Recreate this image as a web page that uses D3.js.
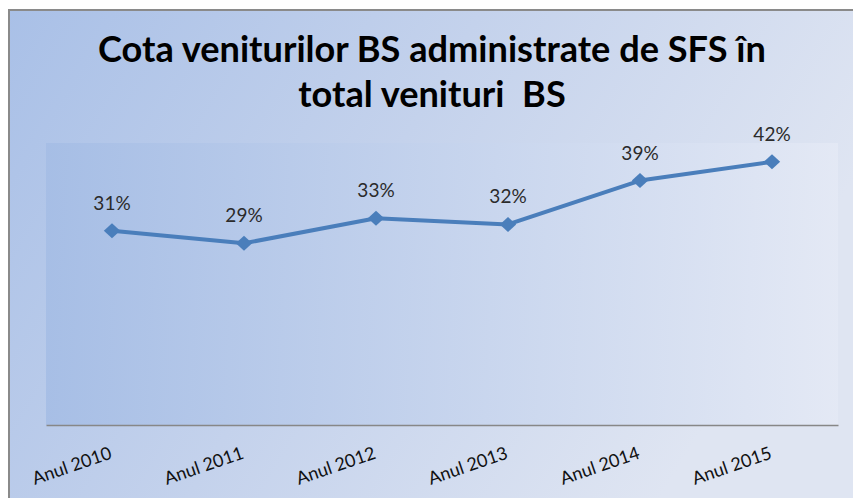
<!DOCTYPE html>
<html lang="ro">
<head>
  <meta charset="UTF-8">
  <title>Cota veniturilor BS administrate de SFS</title>
  <script src="https://d3js.org/d3.v7.min.js"></script>
  <style>
    html, body { margin: 0; padding: 0; background: #dfe5f2; overflow: hidden; }
    svg { display: block; overflow: hidden; font-family: Lato, "Noto Sans", sans-serif; }
    text { white-space: pre; }
  </style>
</head>
<body>
<script>
  // chart data
  const categories = ["Anul 2010", "Anul 2011", "Anul 2012", "Anul 2013", "Anul 2014", "Anul 2015"];
  const values = [31, 29, 33, 32, 39, 42];
  const titleLines = ["Cota veniturilor BS administrate de SFS în", "total venituri  BS"];
  const yMax = 45;

  const width = 853, height = 498;
  const plot = { left: 46, right: 838, top: 143, bottom: 425 };

  const svg = d3.select("body").append("svg")
    .attr("width", width)
    .attr("height", height);

  const defs = svg.append("defs");

  const bgGrad = defs.append("linearGradient")
    .attr("id", "bg").attr("x1", 0).attr("y1", 0).attr("x2", 1).attr("y2", 0.35);
  bgGrad.append("stop").attr("offset", 0).attr("stop-color", "#a9c0e7");
  bgGrad.append("stop").attr("offset", 0.5).attr("stop-color", "#c4d2ec");
  bgGrad.append("stop").attr("offset", 1).attr("stop-color", "#dfe5f2");

  const plotGrad = defs.append("linearGradient")
    .attr("id", "plotbg").attr("x1", 0).attr("y1", 0).attr("x2", 1).attr("y2", 0);
  plotGrad.append("stop").attr("offset", 0).attr("stop-color", "#a5bde5");
  plotGrad.append("stop").attr("offset", 1).attr("stop-color", "#e4e9f5");

  // white page margin above and left of the chart area
  svg.append("rect")
    .attr("width", width).attr("height", height)
    .attr("fill", "#fff");

  // chart area: only the left and top edges of its border are in the picture
  svg.append("rect")
    .attr("x", 9).attr("y", 10)
    .attr("width", width - 9).attr("height", height - 10)
    .attr("fill", "url(#bg)");
  svg.append("path")
    .attr("d", `M9,${height}V10H${width}`)
    .attr("fill", "none")
    .attr("stroke", "#8a8a8a")
    .attr("stroke-width", 2);

  svg.append("rect")
    .attr("x", plot.left).attr("y", plot.top)
    .attr("width", plot.right - plot.left).attr("height", plot.bottom - plot.top)
    .attr("fill", "url(#plotbg)")
    .attr("opacity", 0.9);

  // title, sized to fit the width of the original
  const title = svg.append("g");
  const t1 = title.append("text")
    .attr("x", 432).attr("y", 62)
    .attr("text-anchor", "middle")
    .attr("font-weight", "bold")
    .attr("font-size", 30)
    .attr("fill", "#000")
    .text(titleLines[0]);
  const fs = 30 * 668 / t1.node().getComputedTextLength();
  t1.attr("font-size", fs);
  title.append("text")
    .attr("x", 432).attr("y", 107)
    .attr("text-anchor", "middle")
    .attr("font-weight", "bold")
    .attr("font-size", fs)
    .attr("fill", "#000")
    .text(titleLines[1]);

  const x = d3.scaleBand()
    .domain(categories)
    .range([plot.left, plot.right]);

  const y = d3.scaleLinear()
    .domain([0, yMax])
    .range([plot.bottom, plot.top]);

  // category axis
  const xAxis = svg.append("g")
    .attr("transform", `translate(0,${plot.bottom})`)
    .call(d3.axisBottom(x).tickSize(0).tickPadding(0));
  xAxis.select(".domain").attr("stroke", "#878787").attr("stroke-width", 1.3);
  xAxis.selectAll(".tick text")
    .attr("text-anchor", "end")
    .attr("font-family", "Lato, 'Noto Sans', sans-serif")
    .attr("font-size", 18)
    .attr("fill", "#111")
    .attr("dy", 0)
    .attr("transform", "translate(1,33) rotate(-19)");

  const data = categories.map((c, i) => ({ c, v: values[i] }));

  const line = d3.line()
    .x(d => x(d.c) + x.bandwidth() / 2)
    .y(d => y(d.v));

  svg.append("path")
    .datum(data)
    .attr("d", line)
    .attr("fill", "none")
    .attr("stroke", "#4a7ebb")
    .attr("stroke-width", 4)
    .attr("stroke-linejoin", "round");

  svg.selectAll(".marker")
    .data(data)
    .enter().append("path")
    .attr("class", "marker")
    .attr("d", d3.symbol(d3.symbolDiamond2, 170)())
    .attr("transform", d => `translate(${x(d.c) + x.bandwidth() / 2},${y(d.v)}) scale(1,0.92)`)
    .attr("fill", "#4a7ebb");

  svg.selectAll(".lbl")
    .data(data)
    .enter().append("text")
    .attr("class", "lbl")
    .attr("x", d => x(d.c) + x.bandwidth() / 2)
    .attr("y", d => y(d.v) - 21)
    .attr("text-anchor", "middle")
    .attr("font-size", 19)
    .attr("fill", "#2b2b2b")
    .text(d => d.v + "%");
</script>
</body>
</html>
